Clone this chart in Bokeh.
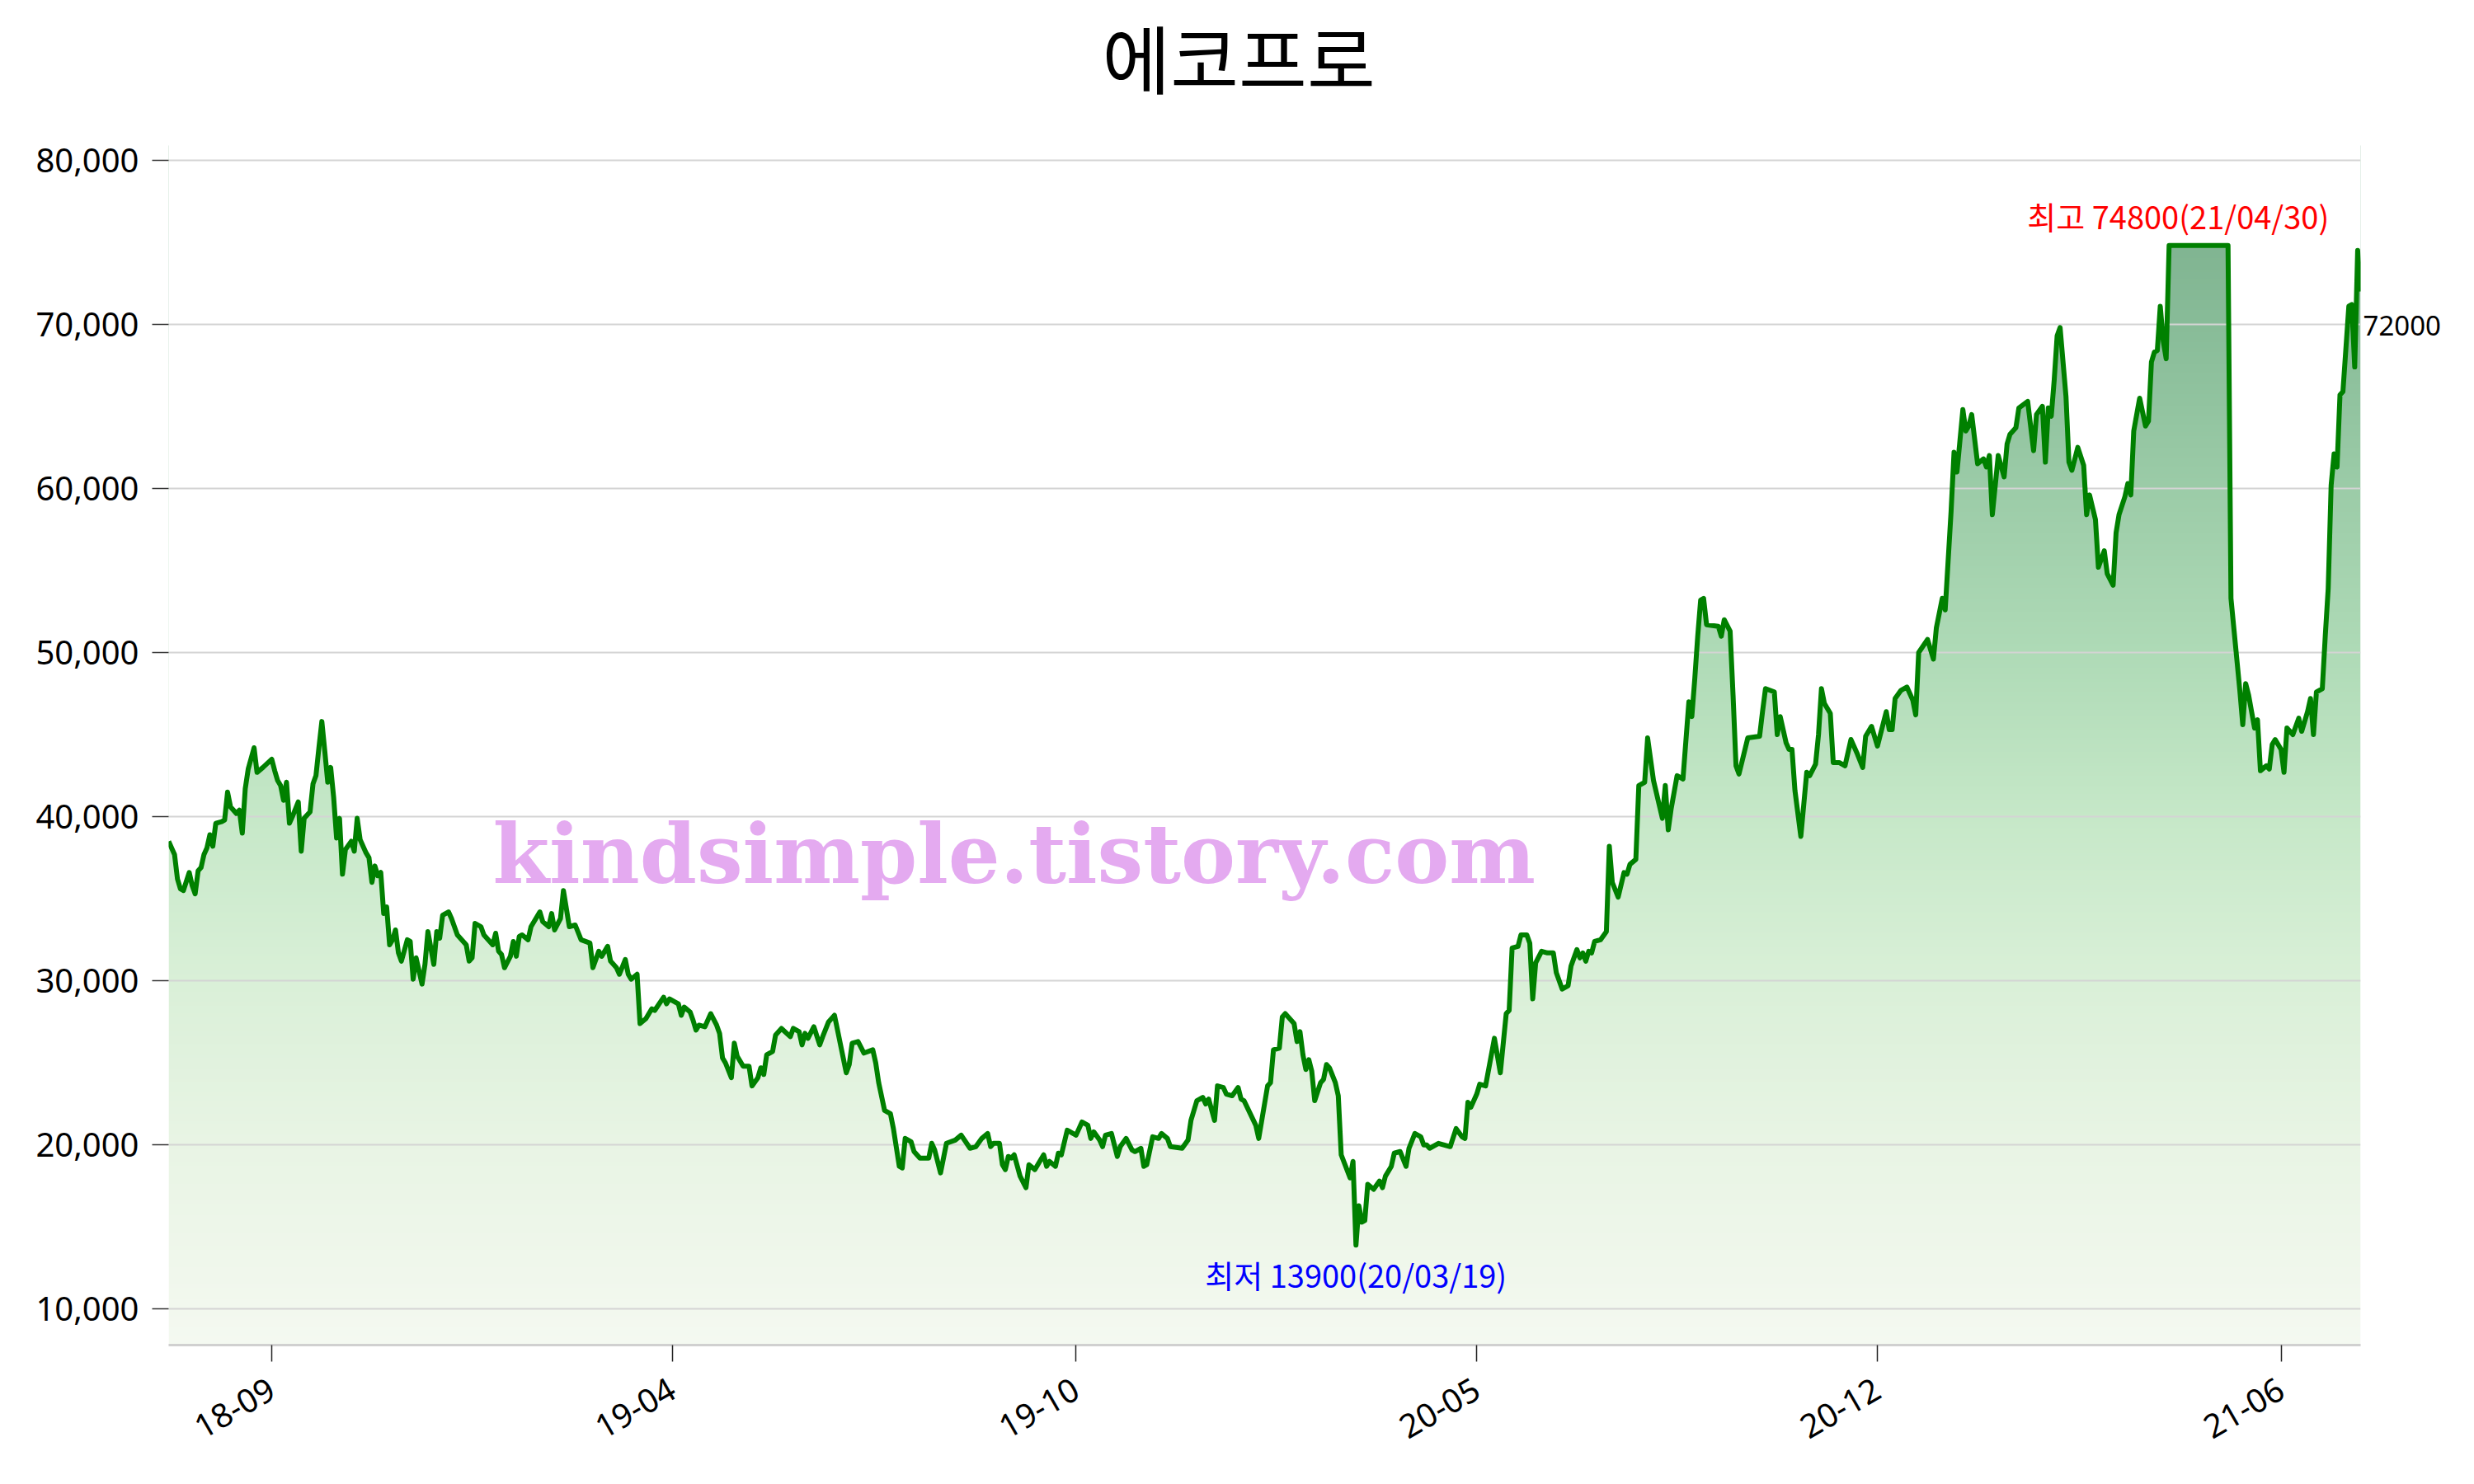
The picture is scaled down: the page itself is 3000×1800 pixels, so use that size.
import math
import numpy as np
from bokeh.plotting import figure
from bokeh.models import Range1d, FixedTicker, NumeralTickFormatter, Label, LinearAxis
from bokeh.embed import file_html
from bokeh.resources import INLINE

# ---------------- data ----------------
TITLE = "에코프로"
high_date = "21/04/30"
low_date = "20/03/19"
watermark_text = "kindsimple.tistory.com"

# trading-day index (x) and closing price (y)
day_idx = [
    0, 2, 3, 4, 5, 7, 8, 9, 10, 11, 12, 13, 14, 15, 16, 18, 19, 20, 21, 23,
    24, 25, 26, 27, 29, 30, 32, 35, 36, 37, 38, 39, 40, 41, 42, 44, 45, 46, 48, 49,
    50, 51, 52, 53, 54, 55, 56, 57, 58, 59, 60, 62, 63, 64, 65, 67, 68, 69, 70, 71,
    72, 73, 74, 75, 76, 77, 78, 79, 81, 82, 83, 84, 86, 87, 88, 90, 91, 92, 93, 95,
    96, 98, 101, 102, 103, 104, 106, 107, 110, 111, 112, 113, 114, 116, 117, 118, 119, 120, 122, 123,
    126, 127, 129, 130, 131, 133, 134, 136, 138,
    140, 143, 144, 146, 147, 149, 150, 152, 153, 155, 156, 157, 159, 160, 162, 164, 165, 168, 169, 170,
    173, 174, 175, 177, 178, 179, 180, 182, 184, 186, 187, 188, 189, 191, 192, 193, 195, 197, 198, 200,
    201, 202, 203, 205, 206, 208, 211, 212, 214, 215, 216, 217, 219, 221, 222, 224, 226, 230, 231, 232,
    234, 236, 239, 240, 241, 243, 245, 246, 248, 249, 250, 252, 253, 255, 258, 259, 260, 262, 264, 267,
    269,
    272, 274, 276, 278, 279, 280, 282, 283, 284, 285, 286, 287, 289, 291, 292, 294, 297, 298, 299, 301,
    302, 303, 305, 308, 310, 312, 313, 314, 316, 317, 318, 320, 322, 323, 325, 327, 328, 330, 331, 332,
    334, 336, 337, 339, 340, 344, 346, 347, 348, 349, 351, 352, 353, 355, 356, 358, 359, 361, 363, 364,
    365, 369, 370, 373, 374, 375, 377, 378, 379, 381, 382, 383, 384, 385, 386, 387, 388, 389, 391, 392,
    393, 394, 396, 397, 398, 401, 402, 403, 404, 405, 406, 407,
    409, 411, 412, 413, 415, 416, 418, 420, 421, 423, 425, 426, 427, 428, 431, 435, 437, 439, 440, 441,
    442, 444, 445, 447, 450, 452, 454, 455, 456, 458, 459, 461, 462, 463, 464, 466, 468, 470, 471, 473,
    475, 476, 478, 479, 480, 481, 482, 483, 484, 486, 488, 489, 490, 492, 494, 495, 496, 498, 499, 501,
    502, 504, 507, 508, 509, 510, 511, 512, 514, 516, 517, 518, 519, 520, 521, 522, 526, 527, 528, 530,
    531, 532, 533, 536, 540, 541, 542, 545,
    546, 547, 549, 550, 551, 552, 554, 556, 557, 559, 560, 561, 562, 564, 565, 567, 569, 571, 573, 575,
    576, 578, 580, 583, 584, 585, 586, 588, 590, 592, 593, 594, 597, 599, 600, 602, 603, 605, 606, 607,
    609, 610, 611, 612, 614, 616, 617, 618, 619, 621, 623, 624, 625, 627, 628, 631, 633, 634, 636, 637,
    638, 639, 640, 641, 642, 644, 645, 646, 648, 650, 651, 652, 654, 655, 657, 658, 660, 661, 662, 664,
    665, 666, 667, 669,
    671, 672, 673, 674, 675, 676, 677, 678,
    679, 680, 681, 682, 683, 684, 685, 686, 687, 688, 689, 690, 691, 692, 693, 694, 695, 696, 697, 698, 699,
    700, 703, 704, 705, 706, 707, 708, 709, 710, 712, 713, 714, 715, 717, 718, 719, 721, 723, 724, 726,
    727, 728, 729, 731, 732, 733, 734, 735, 736, 737, 738, 740, 741, 742, 743, 744,
]
close = [
    38500, 37700, 36200, 35600, 35500, 36600, 35800, 35300, 36700, 36900, 37700, 38100, 38900, 38200, 39600, 39700, 39800, 41500, 40600, 40200,
    40400, 39000, 41700, 42900, 44200, 42700, 43000, 43500, 42800, 42200, 41900, 41000, 42100, 39600, 40000, 40900, 37900, 39900, 40300, 42000,
    42500, 44200, 45800, 44000, 42100, 43000, 41200, 38700, 39900, 36500, 38000, 38500, 37900, 39900, 38600, 37800, 37500, 36000, 37000, 36400,
    36600, 34100, 34500, 32200, 32500, 33100, 31700, 31200, 32500, 32400, 30100, 31400, 29800, 31000, 33000, 31000, 33000, 32600, 34000, 34200,
    33800, 32800, 32200, 31200, 31400, 33500, 33300, 32800, 32200, 32900, 31800, 31600, 30800, 31500, 32400, 31500, 32700, 32800, 32500, 33300,
    34200, 33600, 33300, 34100, 33100, 33800, 35500, 33300, 33400,
    32500, 32300, 30800, 31800, 31500, 32100, 31200, 30800, 30400, 31300, 30400, 30100, 30400, 27400, 27700, 28300, 28200, 29000, 28600, 28900,
    28600, 27900, 28400, 28100, 27600, 27000, 27300, 27200, 28000, 27300, 26800, 25300, 25000, 24100, 26200, 25400, 24800, 24800, 23600, 24100,
    24700, 24300, 25500, 25700, 26700, 27100, 26600, 27100, 26900, 26100, 26800, 26500, 27200, 26100, 26600, 27500, 27900, 24400, 24900, 26200,
    26300, 25600, 25800, 25000, 23800, 22100, 21900, 21000, 18700, 18600, 20400, 20200, 19600, 19200, 19200, 20100, 19700, 18300, 20100, 20300,
    20600,
    19800, 19900, 20400, 20700, 19900, 20100, 20100, 18800, 18500, 19300, 19200, 19400, 18100, 17400, 18800, 18500, 19400, 18700, 19000, 18700,
    19500, 19400, 20900, 20600, 21400, 21200, 20400, 20800, 20300, 19900, 20600, 20700, 19300, 19900, 20400, 19700, 19600, 19800, 18700, 18800,
    20500, 20400, 20700, 20400, 19900, 19800, 20300, 21500, 22100, 22700, 22900, 22500, 22800, 21500, 23600, 23500, 23100, 23000, 23500, 22800,
    22700, 21200, 20400, 23600, 23800, 25800, 25900, 27800, 28000, 27600, 27400, 26300, 26900, 25500, 24600, 25200, 24500, 22700, 23800, 24000,
    24900, 24700, 23800, 23000, 19400, 18000, 19000, 13900, 16300, 15300, 15400, 17600,
    17300, 17800, 17400, 18100, 18700, 19500, 19600, 18700, 19800, 20700, 20500, 20000, 20000, 19800, 20100, 19900, 21000, 20500, 20400, 22600,
    22300, 23100, 23700, 23600, 26500, 24400, 28000, 28200, 32000, 32100, 32800, 32800, 32300, 28900, 31100, 31800, 31700, 31700, 30500, 29500,
    29700, 30900, 31900, 31400, 31700, 31200, 31800, 31700, 32400, 32500, 33000, 38200, 36000, 35100, 36600, 36500, 37100, 37400, 41900, 42100,
    44800, 42200, 39900, 41900, 39200, 40500, 41500, 42500, 42300, 47000, 46100, 48400, 51000, 53200, 53300, 51700, 51600, 51000, 52000, 51300,
    47400, 43100, 42600, 44800, 44900, 46400, 47800, 47600,
    45000, 46100, 44500, 44100, 44100, 41600, 38800, 42700, 42500, 43200, 45000, 47800, 46900, 46300, 43300, 43300, 43100, 44700, 43900, 43000,
    44900, 45500, 44300, 46400, 45300, 45300, 47200, 47700, 47900, 47100, 46200, 50000, 50800, 49600, 51500, 53300, 52600, 58600, 62200, 61000,
    64800, 63500, 63800, 64500, 61500, 61800, 61300, 62000, 58400, 62000, 60700, 62700, 63300, 63700, 64900, 65300, 62300, 64500, 65000, 61600,
    64900, 64400, 66600, 69300, 69800, 65600, 61600, 61100, 62500, 61400, 58400, 59600, 58100, 55200, 56200, 54800, 54100, 57300, 58400, 59500,
    60300, 59600, 63500, 65500,
    63800, 64100, 67700, 68300, 68400, 71100, 69000, 67900,
    74800, 74800, 74800, 74800, 74800, 74800, 74800, 74800, 74800, 74800, 74800, 74800, 74800, 74800, 74800, 74800, 74800, 74800, 74800, 74800, 74800,
    53300, 47700, 45600, 48100, 47400, 46400, 45400, 45900, 42800, 43100, 42900, 44400, 44700, 44100, 42700, 45400, 45000, 46000, 45200, 46400,
    47200, 45000, 47600, 47800, 51000, 53900, 60200, 62100, 61300, 65700, 65900, 71100, 71200, 67400, 74500, 72000,
]
assert len(day_idx) == len(close)

y_ticks = [10000, 20000, 30000, 40000, 50000, 60000, 70000, 80000]
tick_idx = [35, 171, 308, 444, 580, 717]
tick_labels = ["18-09", "19-04", "19-10", "20-05", "20-12", "21-06"]

# ---------------- style ----------------
KFONT = "Noto Sans CJK KR"
NFONT = "Noto Sans"
LINE_COLOR = "#008000"
GRID_COLOR = "#d4d4d4"
FIG_W, FIG_H = 2984, 1784
B_LEFT, B_RIGHT, B_BOTTOM = 204, 122, 153
TOP_GAP_PX = 176            # space above the padded data range (holds the title)
TITLE_X_PX = 1132           # title left edge, from plot-area left
TITLE_Y_PX = 67             # title centre, from top
LAST_LABEL_DROP_PX = 42
# vertical gradient of the area fill: (fraction of padded range, rgb)
GRAD_STOPS = [
    (0.00, (244, 249, 241)),
    (0.03, (242, 248, 238)),
    (0.17, (232, 244, 228)),
    (0.30, (218, 240, 216)),
    (0.44, (198, 232, 200)),
    (0.58, (174, 218, 182)),
    (0.71, (156, 204, 168)),
    (0.85, (136, 188, 152)),
    (0.92, (128, 180, 145)),
    (1.00, (122, 176, 140)),
]

hi = max(close)
hi_i = day_idx[close.index(hi)]
lo = min(close)
lo_i = day_idx[close.index(lo)]
pad = 0.1 * (hi - lo)
y0, y1 = lo - pad, hi + pad
x0, x1 = day_idx[0], day_idx[-1]
span_px = FIG_H - B_BOTTOM - TOP_GAP_PX
per_px = (y1 - y0) / span_px
y_top = y1 + TOP_GAP_PX * per_px

p = figure(
    width=FIG_W, height=FIG_H,
    output_backend="svg", toolbar_location=None, title=None,
    x_range=Range1d(x0, x1), y_range=Range1d(y0, y_top),
    min_border_left=B_LEFT, min_border_right=B_RIGHT,
    min_border_top=0, min_border_bottom=B_BOTTOM,
    background_fill_color="white", border_fill_color="white",
    outline_line_color=None,
)

# gradient background for the area (masked above the line with white)
n_rows = 600
fr = np.linspace(0.0, 1.0, n_rows)
sv = [s[0] for s in GRAD_STOPS]
img = np.empty((n_rows, 1), dtype=np.uint32)
view = img.view(dtype=np.uint8).reshape((n_rows, 1, 4))
for ch in range(3):
    view[:, 0, ch] = np.round(np.interp(fr, sv, [s[1][ch] for s in GRAD_STOPS])).astype(np.uint8)
view[:, 0, 3] = 255
p.image_rgba(image=[img], x=x0, y=y0, dw=x1 - x0, dh=y1 - y0, level="image")
p.varea(x=day_idx, y1=close, y2=[y_top] * len(close), fill_color="white", fill_alpha=1.0, level="image")

# price line
p.line(day_idx, close, line_color=LINE_COLOR, line_width=6, line_join="round")

# axes
p.xgrid.visible = False
p.ygrid.grid_line_color = GRID_COLOR
p.ygrid.grid_line_width = 2
p.ygrid.ticker = FixedTicker(ticks=y_ticks)

p.yaxis.ticker = FixedTicker(ticks=y_ticks)
p.yaxis.formatter = NumeralTickFormatter(format="0,0")
p.yaxis.axis_line_color = None
p.yaxis.major_tick_out = 20
p.yaxis.major_tick_in = 0
p.yaxis.major_tick_line_color = "#333333"
p.yaxis.major_tick_line_width = 1.5
p.yaxis.minor_tick_line_color = None
p.yaxis.major_label_standoff = 16
p.yaxis.major_label_text_font = NFONT
p.yaxis.major_label_text_font_size = "40px"
p.yaxis.major_label_text_color = "black"

p.xaxis.ticker = FixedTicker(ticks=tick_idx)
p.xaxis.major_label_overrides = {t: lab for t, lab in zip(tick_idx, tick_labels)}
p.xaxis.major_label_orientation = math.pi / 6
p.xaxis.axis_line_color = "#d0d0d0"
p.xaxis.axis_line_width = 3
p.xaxis.major_tick_out = 20
p.xaxis.major_tick_in = 0
p.xaxis.major_tick_line_color = "#222222"
p.xaxis.major_tick_line_width = 1.5
p.xaxis.minor_tick_line_color = None
p.xaxis.major_label_standoff = 30
p.xaxis.major_label_text_font = NFONT
p.xaxis.major_label_text_font_size = "40px"
p.xaxis.major_label_text_color = "black"

# last-price label, shown just right of the plot area
drop = LAST_LABEL_DROP_PX * per_px
p.extra_y_ranges = {"last": Range1d(y0 + drop, y_top + drop)}
last_axis = LinearAxis(
    y_range_name="last",
    ticker=FixedTicker(ticks=[close[-1]]),
    major_label_overrides={close[-1]: str(close[-1])},
    axis_line_color=None, major_tick_line_color=None, minor_tick_line_color=None,
    major_tick_out=0, major_tick_in=0, major_label_standoff=3,
    major_label_text_font=NFONT, major_label_text_font_size="33px",
    major_label_text_color="black",
)
p.add_layout(last_axis, "right")

# title (drawn inside the tall plot area, above the data range)
p.add_layout(Label(x=x0, y=y_top, text=TITLE, text_font=KFONT, text_font_size="90px",
                   text_color="black", text_align="left", text_baseline="middle",
                   x_offset=TITLE_X_PX, y_offset=-TITLE_Y_PX))

# annotations
p.add_layout(Label(x=110, y=36000, text=watermark_text, text_font="DejaVu Serif",
                   text_font_style="bold", text_font_size="99px", text_color="#e4aaf0",
                   text_align="left", text_baseline="alphabetic", y_offset=34))
p.add_layout(Label(x=hi_i, y=hi, text=f"최고 {hi}({high_date})", text_font=KFONT,
                   text_font_size="38px", text_color="red", text_align="center",
                   text_baseline="bottom", x_offset=11, y_offset=9))
p.add_layout(Label(x=lo_i, y=lo, text=f"최저 {lo}({low_date})", text_font=KFONT,
                   text_font_size="38px", text_color="blue", text_align="center",
                   text_baseline="top", y_offset=-8))

open("out.html", "w").write(file_html(p, INLINE))
